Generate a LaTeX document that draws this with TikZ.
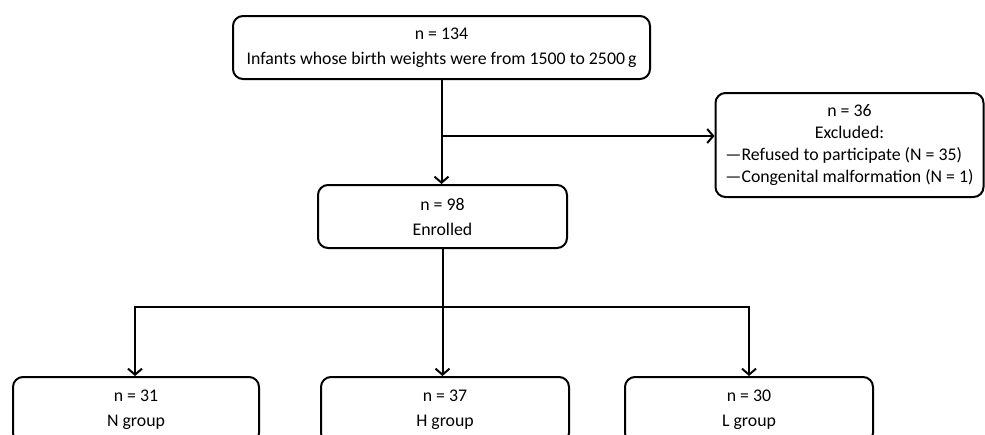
\documentclass[tikz,border=0pt]{standalone}
\usepackage{fontspec}
\setmainfont{Carlito}
\usepackage{tikz}
\usetikzlibrary{calc,positioning,arrows.meta}
\tikzset{
  box/.style={draw,line width=2pt,rounded corners=10pt,align=center,
    font=\fontsize{17.8}{25}\selectfont,inner sep=0pt},
  arr/.style={line width=2pt,-{Straight Barb[length=6pt,width=14pt,line width=2pt]}},
  lin/.style={line width=2pt}
}
\begin{document}
\begin{tikzpicture}[x=1pt,y=-1pt]
            \useasboundingbox (0,0) rectangle (985,434);
            \clip (0,0) rectangle (985,434);
            \node[box,minimum width=417pt,minimum height=63pt] (top) at (441.5,47.5)
                {n = 134\\Infants whose birth weights were from 1500 to 2500\,g};
            \node[box,minimum width=268pt,minimum height=104pt,
                font=\fontsize{17.8}{22.3}\selectfont] (excl) at (849.5,145)
                {\begin{tabular}{@{}l@{}}
                 \multicolumn{1}{@{}c@{}}{n = 36}\\
                 \multicolumn{1}{@{}c@{}}{Excluded:}\\
                 —Refused to participate (N = 35)\\
                 —Congenital malformation (N = 1)
                 \end{tabular}};
            \node[box,minimum width=249pt,minimum height=63pt] (enrolled) at (442.5,216.5)
                {n = 98\\Enrolled};
            \node[box,minimum width=246pt,minimum height=66pt] (ngrp) at (136,410)
                {n = 31\\N group};
            \node[box,minimum width=248pt,minimum height=66pt] (hgrp) at (445,410)
                {n = 37\\H group};
            \node[box,minimum width=248pt,minimum height=66pt] (lgrp) at (749,410)
                {n = 30\\L group};
            \coordinate (split) at ($(top.south)!0.5!(top.south |- enrolled.north)$);
            \coordinate (fork) at (enrolled.south |- 0,307);
            \draw[arr] (top.south) -- (top.south |- enrolled.north);
            \draw[arr] (split |- 0,136) -- (excl.west |- 0,136);
            \draw[lin] (enrolled.south) -- (fork);
            \draw[arr] (fork) -| (ngrp.north -| 135,0);
            \draw[arr] (fork) -- (fork |- hgrp.north);
            \draw[arr] (fork) -| (lgrp.north);
\end{tikzpicture}
\end{document}
